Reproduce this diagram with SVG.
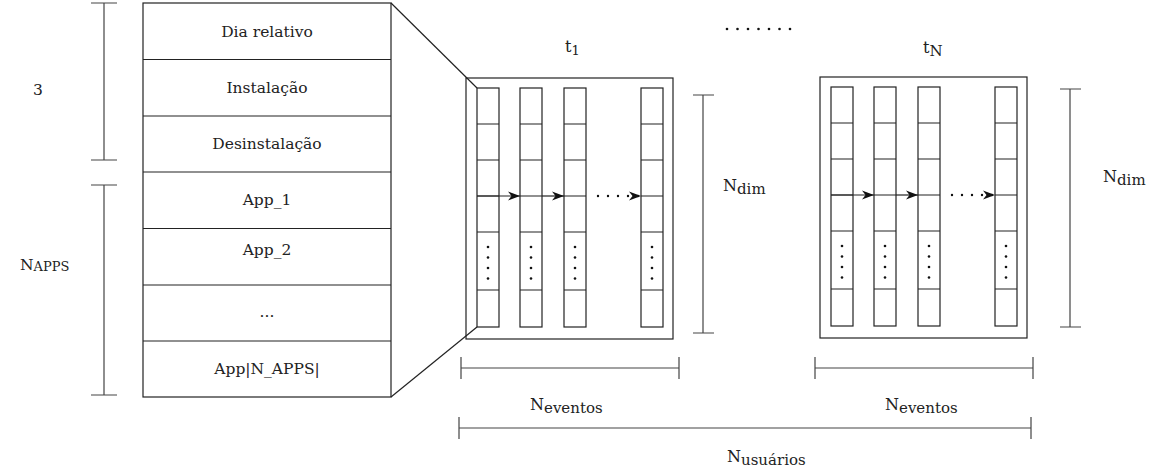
<svg xmlns="http://www.w3.org/2000/svg" width="1157" height="475" viewBox="0 0 1157 475">
  <style>
    .shape { fill: #fff; stroke: #222; stroke-width: 1.2; }
    .line { fill: none; stroke: #222; stroke-width: 1.2; }
    .dim { fill: none; stroke: #444; stroke-width: 1.2; }
    .lbl { font-family: "DejaVu Serif", serif; font-size: 15.5px; fill: #222; }
    .math { font-family: "DejaVu Serif", serif; font-size: 16px; fill: #222; }
    .mid { text-anchor: middle; }
    .sub { font-size: 15px; }
    .small { font-size: 13px; }
    .dot { fill: #111; }
  </style>
  <defs>
    <marker id="arrow" markerUnits="userSpaceOnUse" markerWidth="13" markerHeight="11" refX="12" refY="5.5" orient="auto">
      <path d="M0,1 L12,5.5 L0,10 L3.5,5.5 Z" fill="#111"/>
    </marker>
    <!-- one feature column: 4 cells, an elided cell with dots, 1 last cell -->
    <g id="column">
      <rect class="shape" x="0" y="0" width="22" height="239"/>
      <path class="line" d="M0,36 H22 M0,72 H22 M0,108 H22 M0,144 H22 M0,202 H22"/>
      <circle class="dot" cx="11" cy="159" r="1.3"/>
      <circle class="dot" cx="11" cy="169.5" r="1.3"/>
      <circle class="dot" cx="11" cy="180" r="1.3"/>
      <circle class="dot" cx="11" cy="190.5" r="1.3"/>
    </g>
    <!-- one time step: frame, columns and the arrows between them -->
    <g id="step">
      <rect class="shape" x="0" y="0" width="207" height="261"/>
      <use href="#column" x="11" y="10"/>
      <use href="#column" x="54" y="10"/>
      <use href="#column" x="98" y="10"/>
      <use href="#column" x="175" y="10"/>
      <path class="line" d="M11,118 H54" stroke-width="1.5" marker-end="url(#arrow)"/>
      <path class="line" d="M76,118 H98" stroke-width="1.5" marker-end="url(#arrow)"/>
      <path d="M132,118 H175" fill="none" stroke="#111" stroke-width="2.4" stroke-linecap="round" stroke-dasharray="0 10" marker-end="url(#arrow)"/>
    </g>
  </defs>

  <!-- feature vector of a single event -->
  <g id="feature-table">
    <rect class="shape" x="143" y="3" width="248" height="394"/>
    <path class="line" d="M143,59.5 H391 M143,116 H391 M143,172 H391 M143,228.5 H391 M143,285 H391 M143,341 H391"/>
    <text class="lbl mid" x="267" y="37">Dia relativo</text>
    <text class="lbl mid" x="267" y="93">Instalação</text>
    <text class="lbl mid" x="267" y="149">Desinstalação</text>
    <text class="lbl mid" x="267" y="205">App_1</text>
    <text class="lbl mid" x="267" y="255">App_2</text>
    <text class="lbl mid" x="267" y="317">...</text>
    <text class="lbl mid" x="267" y="374">App|N_APPS|</text>
  </g>

  <g id="bracket-3">
    <path class="dim" d="M104,3 V160 M91,3 H117 M91,160 H117"/>
    <text class="lbl" x="33" y="95">3</text>
  </g>

  <g id="bracket-napps">
    <path class="dim" d="M104,185 V395 M91,185 H117 M91,395 H117"/>
    <text class="lbl" x="20" y="270">N<tspan class="small" dy="1">APPS</tspan></text>
  </g>

  <g id="step-t1">
    <use href="#step" x="466" y="78"/>
    <text class="math" x="565" y="52">t<tspan class="small" dy="3">1</tspan></text>
  </g>

  <g id="step-tN">
    <use href="#step" x="820" y="77"/>
    <text class="math" x="923" y="53">t<tspan class="sub" dy="3">N</tspan></text>
  </g>

  <g id="ellipsis-steps">
    <circle class="dot" cx="727" cy="29" r="1.3"/>
    <circle class="dot" cx="737.5" cy="29" r="1.3"/>
    <circle class="dot" cx="748" cy="29" r="1.3"/>
    <circle class="dot" cx="758.5" cy="29" r="1.3"/>
    <circle class="dot" cx="769" cy="29" r="1.3"/>
    <circle class="dot" cx="779.5" cy="29" r="1.3"/>
    <circle class="dot" cx="790" cy="29" r="1.3"/>
  </g>

  <g id="connectors">
    <!-- zoom lines from the feature table to the first column -->
    <path class="line" d="M391,3 L477,88"/>
    <path class="line" d="M391,397 L477,327"/>
  </g>

  <g id="bracket-ndim-1">
    <path class="dim" d="M703,95 V333 M693,95 H714 M693,333 H714"/>
    <text class="math" x="723" y="191">N<tspan class="sub" dy="3">dim</tspan></text>
  </g>

  <g id="bracket-ndim-2">
    <path class="dim" d="M1070,89 V327 M1060,89 H1081 M1060,327 H1081"/>
    <text class="math" x="1103" y="182">N<tspan class="sub" dy="3">dim</tspan></text>
  </g>

  <g id="bracket-eventos-1">
    <path class="dim" d="M461,368 H679 M461,357 V379 M679,357 V379"/>
    <text class="math" x="530" y="410">N<tspan class="sub" dy="3">eventos</tspan></text>
  </g>

  <g id="bracket-eventos-2">
    <path class="dim" d="M815,368 H1033 M815,357 V379 M1033,357 V379"/>
    <text class="math" x="885" y="410">N<tspan class="sub" dy="3">eventos</tspan></text>
  </g>

  <g id="bracket-usuarios">
    <path class="dim" d="M459,428 H1031 M459,417 V439 M1031,417 V439"/>
    <text class="math" x="727" y="462">N<tspan class="sub" dy="3">usuários</tspan></text>
  </g>
</svg>
